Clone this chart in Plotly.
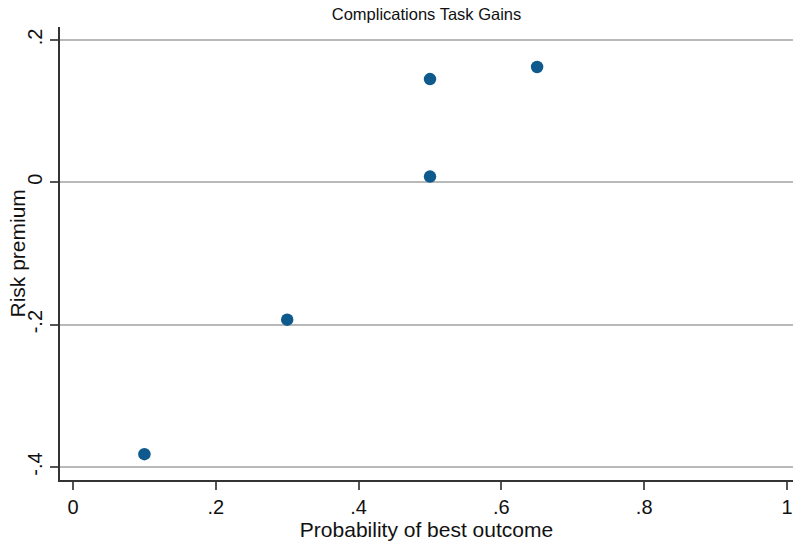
import plotly.graph_objects as go

# Probability of the best outcome and the estimated risk premium
prob_best = [0.1, 0.3, 0.5, 0.5, 0.65]
risk_premium = [-0.382, -0.193, 0.008, 0.145, 0.162]

x_ticks = [0, 0.2, 0.4, 0.6, 0.8, 1.0]
x_tick_text = ["0", ".2", ".4", ".6", ".8", "1"]
y_ticks = [-0.4, -0.2, 0, 0.2]
y_tick_text = ["-.4", "-.2", "0", ".2"]

FONT = "Arial, Liberation Sans, sans-serif"
LEFT, PLOT_W = 60, 733

fig = go.Figure(
    go.Scatter(
        x=prob_best,
        y=risk_premium,
        mode="markers",
        marker=dict(size=12.5, color="#0e5a8c", line=dict(width=0)),
        showlegend=False,
    )
)

fig.update_layout(
    width=793,
    height=543,
    margin=dict(l=LEFT, r=0, t=27, b=63),
    paper_bgcolor="white",
    plot_bgcolor="white",
    font=dict(family=FONT, color="#111"),
    title=dict(
        text="Complications Task Gains",
        x=(60 + 793) / 2 / 793,
        xanchor="center",
        y=1 - 14 / 543,
        yanchor="middle",
        font=dict(size=16.5, family=FONT, color="#111"),
    ),
    annotations=[
        # vertical y-axis title, placed just left of the tick labels
        dict(
            text="Risk premium",
            xref="paper",
            yref="paper",
            x=(17 - LEFT) / PLOT_W,
            y=0.5,
            xanchor="center",
            yanchor="middle",
            textangle=-90,
            showarrow=False,
            font=dict(size=21, family=FONT, color="#111"),
        )
    ],
)

fig.update_xaxes(
    range=[-0.0182, 1.0084],
    tickvals=x_ticks,
    ticktext=x_tick_text,
    showgrid=False,
    zeroline=False,
    showline=True,
    linecolor="#333",
    linewidth=1.5,
    ticks="outside",
    ticklen=8,
    tickwidth=1.5,
    tickcolor="#555",
    tickfont=dict(size=20, family=FONT, color="#111"),
    title=dict(text="Probability of best outcome", font=dict(size=21, family=FONT, color="#111"), standoff=0),
)

fig.update_yaxes(
    range=[-0.4183, 0.2182],
    tickvals=y_ticks,
    ticktext=y_tick_text,
    tickangle=-90,
    showgrid=True,
    gridcolor="#b9b9b9",
    gridwidth=2,
    zeroline=False,
    showline=True,
    linecolor="#333",
    linewidth=1.5,
    ticks="outside",
    ticklen=8,
    tickwidth=1.5,
    tickcolor="#555",
    tickfont=dict(size=20, family=FONT, color="#111"),
)

fig.write_html("out.html")
